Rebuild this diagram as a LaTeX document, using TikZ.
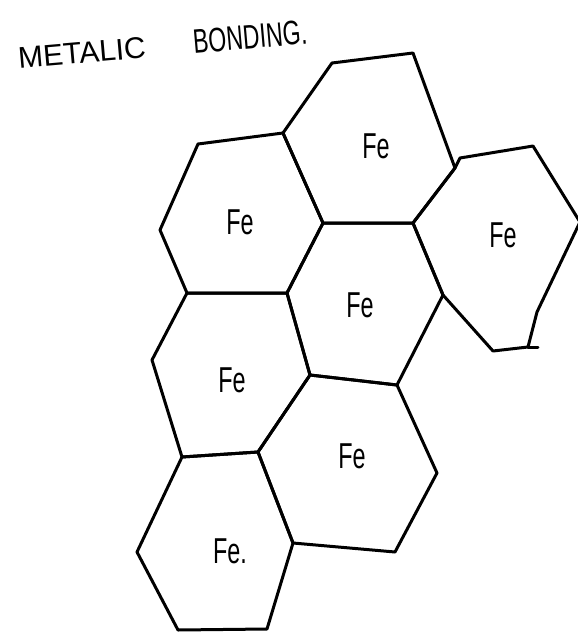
\documentclass[tikz,border=0pt]{standalone}
\usepackage{fontspec}
\setmainfont{Liberation Sans}
\newfontfamily\narrowsans[FakeStretch=0.68]{Liberation Sans}
\newfontfamily\atomsans[FakeStretch=0.65]{Liberation Sans}
\usetikzlibrary{positioning}

\begin{document}
\begin{tikzpicture}[
      x=0.5pt, y=-0.5pt,
      cell/.style={line width=1.5pt, line join=round, line cap=round},
      atom/.style={font=\atomsans\fontsize{18}{18}\selectfont, inner sep=0pt},
      heading/.style={font=\fontsize{15}{15}\selectfont, inner sep=0pt, rotate=5}
    ]
    \useasboundingbox (0,0) rectangle (578,634);

    % corners of the cells (pixel grid, y down)
    \coordinate (a) at (332,63);
    \coordinate (b) at (413,53);
    \coordinate (c) at (283,133);
    \coordinate (d) at (455,168);
    \coordinate (e) at (323,223);
    \coordinate (f) at (413,223);
    \coordinate (g) at (198,144);
    \coordinate (h) at (160,230);
    \coordinate (i) at (187,293);
    \coordinate (j) at (287,293);
    \coordinate (k) at (460,158);
    \coordinate (l) at (533,146);
    \coordinate (m) at (580,222);
    \coordinate (n) at (537,312);
    \coordinate (o) at (528,347);
    \coordinate (oo) at (538,347);
    \coordinate (p) at (493,351);
    \coordinate (q) at (443,295);
    \coordinate (r) at (397,385);
    \coordinate (s) at (310,375);
    \coordinate (t) at (258,452);
    \coordinate (u) at (182,457);
    \coordinate (v) at (152,360);
    \coordinate (w) at (437,473);
    \coordinate (x) at (395,552);
    \coordinate (y) at (293,543);
    \coordinate (z1) at (267,629);
    \coordinate (z2) at (178,630);
    \coordinate (z3) at (137,552);

    \node[heading] (t1) at (82,53) {METALIC};
    \node[heading, font=\narrowsans\fontsize{17}{17}\selectfont] (t2) at (250,37) {BONDING.};

    \draw[cell] (a) -- (b) -- (d) -- (f) -- (e) -- (c) -- cycle;
    \draw[cell] (g) -- (c) -- (e) -- (j) -- (i) -- (h) -- cycle;
    \draw[cell] (f) -- (d) -- (k) -- (l) -- (m) -- (n) -- (o) -- (p) -- (q) -- cycle;
    \draw[cell] (o) -- (oo);
    \draw[cell] (e) -- (f) -- (q) -- (r) -- (s) -- (j) -- cycle;
    \draw[cell] (i) -- (j) -- (s) -- (t) -- (u) -- (v) -- cycle;
    \draw[cell] (s) -- (r) -- (w) -- (x) -- (y) -- (t) -- cycle;
    \draw[cell] (u) -- (t) -- (y) -- (z1) -- (z2) -- (z3) -- cycle;

    \node[atom] (fe1) at (376,146) {Fe};
    \node[atom] (fe2) at (240,222) {Fe};
    \node[atom] (fe3) at (503,235) {Fe};
    \node[atom] (fe4) at (360,305) {Fe};
    \node[atom] (fe5) at (232,380) {Fe};
    \node[atom] (fe6) at (352,456) {Fe};
    \node[atom] (fe7) at (230,551) {Fe.};
\end{tikzpicture}
\end{document}
